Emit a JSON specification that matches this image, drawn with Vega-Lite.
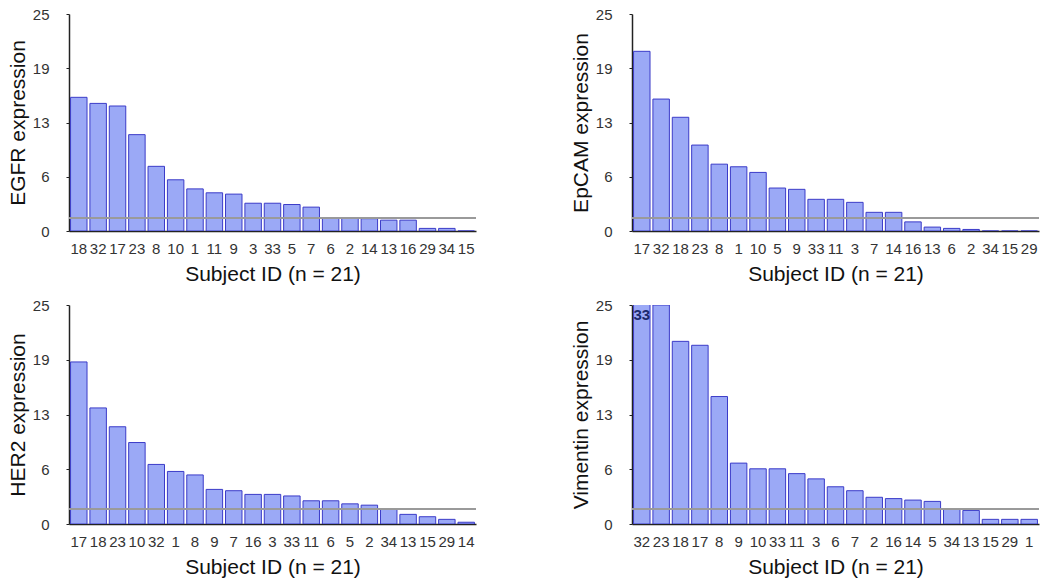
{
  "$schema": "https://vega.github.io/schema/vega-lite/v6.json",
  "padding": {"left": 7, "top": 7, "right": 5, "bottom": 5},
  "background": "white",
  "config": {
    "font": "Liberation Sans",
    "view": {"stroke": null},
    "axis": {"grid": false, "labelFont": "Liberation Sans", "titleFont": "Liberation Sans", "titleFontWeight": "normal", "titleColor": "#111", "labelColor": "#333", "domainColor": "#222", "tickColor": "#222"}
  },
  "datasets": {
    "expr": [
      {"gene": "EGFR", "id": "18", "value": 15.4},
      {"gene": "EGFR", "id": "32", "value": 14.7},
      {"gene": "EGFR", "id": "17", "value": 14.4},
      {"gene": "EGFR", "id": "23", "value": 11.1},
      {"gene": "EGFR", "id": "8", "value": 7.45},
      {"gene": "EGFR", "id": "10", "value": 5.9},
      {"gene": "EGFR", "id": "1", "value": 4.85},
      {"gene": "EGFR", "id": "11", "value": 4.4},
      {"gene": "EGFR", "id": "9", "value": 4.25},
      {"gene": "EGFR", "id": "3", "value": 3.2},
      {"gene": "EGFR", "id": "33", "value": 3.2},
      {"gene": "EGFR", "id": "5", "value": 3.05},
      {"gene": "EGFR", "id": "7", "value": 2.75},
      {"gene": "EGFR", "id": "6", "value": 1.5},
      {"gene": "EGFR", "id": "2", "value": 1.5},
      {"gene": "EGFR", "id": "14", "value": 1.42},
      {"gene": "EGFR", "id": "13", "value": 1.25},
      {"gene": "EGFR", "id": "16", "value": 1.25},
      {"gene": "EGFR", "id": "29", "value": 0.3},
      {"gene": "EGFR", "id": "34", "value": 0.3},
      {"gene": "EGFR", "id": "15", "value": 0},
      {"gene": "EpCAM", "id": "17", "value": 20.7},
      {"gene": "EpCAM", "id": "32", "value": 15.2},
      {"gene": "EpCAM", "id": "18", "value": 13.1},
      {"gene": "EpCAM", "id": "23", "value": 9.9},
      {"gene": "EpCAM", "id": "8", "value": 7.7},
      {"gene": "EpCAM", "id": "1", "value": 7.4},
      {"gene": "EpCAM", "id": "10", "value": 6.75},
      {"gene": "EpCAM", "id": "5", "value": 4.95},
      {"gene": "EpCAM", "id": "9", "value": 4.8},
      {"gene": "EpCAM", "id": "33", "value": 3.65},
      {"gene": "EpCAM", "id": "11", "value": 3.65},
      {"gene": "EpCAM", "id": "3", "value": 3.3},
      {"gene": "EpCAM", "id": "7", "value": 2.15},
      {"gene": "EpCAM", "id": "14", "value": 2.15},
      {"gene": "EpCAM", "id": "16", "value": 1.05},
      {"gene": "EpCAM", "id": "13", "value": 0.45},
      {"gene": "EpCAM", "id": "6", "value": 0.3},
      {"gene": "EpCAM", "id": "2", "value": 0.18},
      {"gene": "EpCAM", "id": "34", "value": 0},
      {"gene": "EpCAM", "id": "15", "value": 0},
      {"gene": "EpCAM", "id": "29", "value": 0},
      {"gene": "HER2", "id": "17", "value": 18.5},
      {"gene": "HER2", "id": "18", "value": 13.25},
      {"gene": "HER2", "id": "23", "value": 11.1},
      {"gene": "HER2", "id": "10", "value": 9.3},
      {"gene": "HER2", "id": "32", "value": 6.8},
      {"gene": "HER2", "id": "1", "value": 6.0},
      {"gene": "HER2", "id": "8", "value": 5.6},
      {"gene": "HER2", "id": "9", "value": 3.95},
      {"gene": "HER2", "id": "7", "value": 3.8},
      {"gene": "HER2", "id": "16", "value": 3.38},
      {"gene": "HER2", "id": "3", "value": 3.38},
      {"gene": "HER2", "id": "33", "value": 3.2},
      {"gene": "HER2", "id": "11", "value": 2.65},
      {"gene": "HER2", "id": "6", "value": 2.65},
      {"gene": "HER2", "id": "5", "value": 2.3},
      {"gene": "HER2", "id": "2", "value": 2.15},
      {"gene": "HER2", "id": "34", "value": 1.67},
      {"gene": "HER2", "id": "13", "value": 1.1},
      {"gene": "HER2", "id": "15", "value": 0.83},
      {"gene": "HER2", "id": "29", "value": 0.53},
      {"gene": "HER2", "id": "14", "value": 0.2},
      {"gene": "Vimentin", "id": "32", "value": 33},
      {"gene": "Vimentin", "id": "23", "value": 25},
      {"gene": "Vimentin", "id": "18", "value": 20.85},
      {"gene": "Vimentin", "id": "17", "value": 20.4},
      {"gene": "Vimentin", "id": "8", "value": 14.55},
      {"gene": "Vimentin", "id": "9", "value": 6.95},
      {"gene": "Vimentin", "id": "10", "value": 6.3},
      {"gene": "Vimentin", "id": "33", "value": 6.3},
      {"gene": "Vimentin", "id": "11", "value": 5.75},
      {"gene": "Vimentin", "id": "3", "value": 5.15},
      {"gene": "Vimentin", "id": "6", "value": 4.25},
      {"gene": "Vimentin", "id": "7", "value": 3.8},
      {"gene": "Vimentin", "id": "2", "value": 3.05},
      {"gene": "Vimentin", "id": "16", "value": 2.9},
      {"gene": "Vimentin", "id": "14", "value": 2.73},
      {"gene": "Vimentin", "id": "5", "value": 2.58},
      {"gene": "Vimentin", "id": "34", "value": 1.7},
      {"gene": "Vimentin", "id": "13", "value": 1.55},
      {"gene": "Vimentin", "id": "15", "value": 0.53},
      {"gene": "Vimentin", "id": "29", "value": 0.53},
      {"gene": "Vimentin", "id": "1", "value": 0.53}
    ]
  },
  "data": {"name": "expr"},
  "spacing": 14,
  "vconcat": [
    {
      "spacing": 93,
      "hconcat": [
        {
          "width": 407, "height": 217,
          "transform": [{"filter": "datum.gene === 'EGFR'"}],
          "layer": [
            {"mark": {"type": "bar", "fill": "#9ba9f6", "stroke": "#3b3bc8", "strokeWidth": 1, "clip": true},
             "encoding": {
               "x": {"field": "id", "type": "nominal", "sort": null, "scale": {"paddingInner": 0.15, "paddingOuter": 0.08},
                     "axis": {"labelAngle": 0, "ticks": false, "tickSize": 0, "labelPadding": 10, "labelFontSize": 15, "title": "Subject ID (n = 21)", "titleFontSize": 21, "titlePadding": 7, "domainWidth": 1.5}},
               "y": {"field": "value", "type": "quantitative", "scale": {"domain": [0, 25], "nice": false},
                     "axis": {"values": [0, 6.25, 12.5, 18.75, 25], "format": ".0f", "tickSize": 3, "labelPadding": 17, "labelFontSize": 15, "title": "EGFR expression", "titleFontSize": 21, "titlePadding": 4, "domainWidth": 1.5}}
             }},
            {"mark": {"type": "rule", "color": "#9a9a9a", "strokeWidth": 1.5}, "encoding": {"y": {"datum": 1.5}}}
          ]
        },
        {
          "width": 407, "height": 217,
          "transform": [{"filter": "datum.gene === 'EpCAM'"}],
          "layer": [
            {"mark": {"type": "bar", "fill": "#9ba9f6", "stroke": "#3b3bc8", "strokeWidth": 1, "clip": true},
             "encoding": {
               "x": {"field": "id", "type": "nominal", "sort": null, "scale": {"paddingInner": 0.15, "paddingOuter": 0.08},
                     "axis": {"labelAngle": 0, "ticks": false, "tickSize": 0, "labelPadding": 10, "labelFontSize": 15, "title": "Subject ID (n = 21)", "titleFontSize": 21, "titlePadding": 7, "domainWidth": 1.5}},
               "y": {"field": "value", "type": "quantitative", "scale": {"domain": [0, 25], "nice": false},
                     "axis": {"values": [0, 6.25, 12.5, 18.75, 25], "format": ".0f", "tickSize": 3, "labelPadding": 17, "labelFontSize": 15, "title": "EpCAM expression", "titleFontSize": 21, "titlePadding": 4, "domainWidth": 1.5}}
             }},
            {"mark": {"type": "rule", "color": "#9a9a9a", "strokeWidth": 1.5}, "encoding": {"y": {"datum": 1.5}}}
          ]
        }
      ]
    },
    {
      "spacing": 93,
      "hconcat": [
        {
          "width": 407, "height": 219,
          "transform": [{"filter": "datum.gene === 'HER2'"}],
          "layer": [
            {"mark": {"type": "bar", "fill": "#9ba9f6", "stroke": "#3b3bc8", "strokeWidth": 1, "clip": true},
             "encoding": {
               "x": {"field": "id", "type": "nominal", "sort": null, "scale": {"paddingInner": 0.15, "paddingOuter": 0.08},
                     "axis": {"labelAngle": 0, "ticks": false, "tickSize": 0, "labelPadding": 10, "labelFontSize": 15, "title": "Subject ID (n = 21)", "titleFontSize": 21, "titlePadding": 7, "domainWidth": 1.5}},
               "y": {"field": "value", "type": "quantitative", "scale": {"domain": [0, 25], "nice": false},
                     "axis": {"values": [0, 6.25, 12.5, 18.75, 25], "format": ".0f", "tickSize": 3, "labelPadding": 17, "labelFontSize": 15, "title": "HER2 expression", "titleFontSize": 21, "titlePadding": 4, "domainWidth": 1.5}}
             }},
            {"mark": {"type": "rule", "color": "#9a9a9a", "strokeWidth": 1.5}, "encoding": {"y": {"datum": 1.7}}}
          ]
        },
        {
          "width": 407, "height": 219,
          "transform": [{"filter": "datum.gene === 'Vimentin'"}],
          "layer": [
            {"mark": {"type": "bar", "fill": "#9ba9f6", "stroke": "#3b3bc8", "strokeWidth": 1, "clip": true},
             "encoding": {
               "x": {"field": "id", "type": "nominal", "sort": null, "scale": {"paddingInner": 0.15, "paddingOuter": 0.08},
                     "axis": {"labelAngle": 0, "ticks": false, "tickSize": 0, "labelPadding": 10, "labelFontSize": 15, "title": "Subject ID (n = 21)", "titleFontSize": 21, "titlePadding": 7, "domainWidth": 1.5}},
               "y": {"field": "value", "type": "quantitative", "scale": {"domain": [0, 25], "nice": false},
                     "axis": {"values": [0, 6.25, 12.5, 18.75, 25], "format": ".0f", "tickSize": 3, "labelPadding": 17, "labelFontSize": 15, "title": "Vimentin expression", "titleFontSize": 21, "titlePadding": 4, "domainWidth": 1.5}}
             }},
            {"mark": {"type": "rule", "color": "#9a9a9a", "strokeWidth": 1.5}, "encoding": {"y": {"datum": 1.7}}},
            {"transform": [{"filter": "datum.value > 25"}],
             "mark": {"type": "text", "baseline": "top", "align": "center", "dy": 3, "fontSize": 15, "fontWeight": "bold", "color": "#1c2a6e"},
             "encoding": {"x": {"field": "id", "type": "nominal", "sort": null}, "y": {"datum": 25}, "text": {"field": "value", "type": "quantitative"}}}
          ]
        }
      ]
    }
  ]
}
